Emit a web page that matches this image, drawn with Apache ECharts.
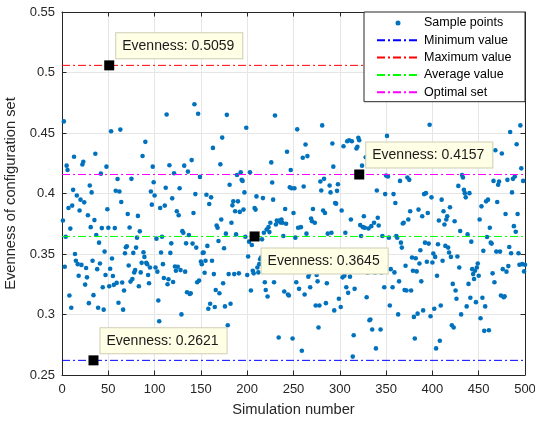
<!DOCTYPE html>
<html>
<head>
<meta charset="utf-8">
<script src="https://cdn.jsdelivr.net/npm/echarts@6/dist/echarts.min.js"></script>
<style>
html,body{margin:0;padding:0;background:#fff;}
#chart{width:535px;height:422px;}
</style>
</head>
<body>
<div id="chart"></div>
<script>
// ---- data ----
const evenness = [
// 1-61
0.3777,0.4596,0.3395,0.3643,0.4230,0.4194,0.3880,0.3157,0.3710,0.3056,
0.3900,0.4030,0.4304,0.3500,0.3444,0.3984,0.3416,0.3320,0.3859,0.3949,
0.3410,0.4240,0.4263,0.3927,0.3247,0.3384,0.3307,0.3820,0.3094,0.4066,
0.3722,0.4009,0.3444,0.3160,0.3780,0.4328,0.3657,0.3375,0.3056,0.3594,
0.3422,0.4164,0.3714,0.3225,0.3040,0.3520,0.3326,0.4222,0.3870,0.3717,
0.3233,0.3378,0.4514,0.3463,0.3318,0.3245,0.3714,0.4023,0.3261,0.4120,
0.3097,
// 62-123
0.4017,0.4528,0.3930,0.3264,0.3040,0.3198,0.3506,0.3556,0.3564,0.3831,
0.3405,0.3719,0.3272,0.4121,0.3294,0.3509,0.3348,0.3367,0.3553,0.3635,
0.3815,0.3234,0.3687,0.3348,0.3427,0.4310,0.3515,0.3476,0.4427,0.3427,
0.3416,0.3326,0.3258,0.3389,0.4017,0.3908,0.4222,0.4093,0.3984,0.3389,
0.3627,0.3354,0.3116,0.2944,0.3880,0.3512,0.3643,0.3416,0.3302,0.3900,
0.4047,0.4653,0.3250,0.3291,0.4233,0.3509,0.3588,0.3960,0.3269,0.4167,
0.3397,0.3362,
// 124-189
0.3853,0.3395,0.3820,0.4044,0.3367,0.3001,0.3689,0.3676,0.4230,0.3354,
0.3588,0.3184,0.4181,0.3657,0.3170,0.3176,0.4276,0.3586,0.3839,0.4738,
0.3995,0.3553,0.3266,0.4659,0.3280,0.4137,0.3438,0.3416,0.3509,0.3512,
0.3345,0.3444,0.3990,0.3567,0.3048,0.3913,0.3089,0.3968,0.3444,0.4377,
0.3334,0.3062,0.3203,0.3736,0.3717,0.3608,0.3176,0.4241,0.3785,0.4462,
0.3258,0.3547,0.3067,0.3668,0.4650,0.2911,0.3334,0.4072,0.3089,0.3758,
0.3902,0.3935,0.3334,0.3853,0.3662,0.4153,
// 190-251
0.3935,0.3340,0.3848,0.4175,0.4113,0.4104,0.3867,0.4009,0.3643,0.4544,
0.3326,0.3479,0.3602,0.4175,0.3198,0.3575,0.3362,0.3340,0.3880,0.3867,
0.3976,0.3389,0.3348,0.3416,0.3457,0.3471,0.3621,0.3962,0.3676,0.3266,
0.3203,0.3703,0.3149,0.3722,0.3681,0.3758,0.4257,0.4091,0.3949,0.3266,
0.4645,0.3744,0.3777,0.3771,0.2810,0.3777,0.3760,0.3785,0.3758,0.3649,
0.3190,0.3872,0.3750,0.4345,0.3165,0.3157,0.4052,0.4194,0.4044,0.2802,
0.3839,0.4044,
// 252-309
0.3635,0.3266,0.4530,0.3717,0.3212,0.3480,0.3722,0.2701,0.4295,0.4058,
0.3165,0.4405,0.3668,0.4309,0.3313,0.3334,0.3225,0.3793,0.3771,0.3872,
0.3420,0.3758,0.3075,0.3326,0.3274,0.2892,0.3075,0.4099,0.4025,0.4563,
0.3859,0.4121,0.3839,0.3094,0.3258,0.3668,0.3510,0.4066,0.4009,0.3676,
0.4413,0.4222,0.3034,0.3921,0.3916,0.4022,0.4077,0.3130,0.3450,0.3062,
0.3859,0.3307,0.4391,0.3320,0.3676,0.3225,0.4432,0.3179,
// 310-375
0.4440,0.3313,0.3785,0.4432,0.2652,0.2829,0.3212,0.3450,0.4372,0.4386,
0.4460,0.4440,0.3739,0.3649,0.4230,0.3722,0.3812,0.3717,0.4300,0.3143,
0.3348,0.3711,0.2952,0.2958,0.3730,0.2876,0.3400,0.3758,0.3348,0.2720,
0.4025,0.3799,0.3736,0.4250,0.2876,0.3348,0.3649,0.3498,0.3225,0.3995,
0.4148,0.4476,0.4140,0.3635,0.3075,0.3375,0.4350,0.3225,0.3995,0.3348,
0.3921,0.3649,0.3635,0.3001,0.3274,0.4104,0.3594,0.3553,0.3752,0.3758,
0.3203,0.3403,0.3198,0.4132,0.3785,0.4113,
// 376-438
0.3853,0.3198,0.3471,0.3362,0.2980,0.2802,0.3465,0.3356,0.3007,0.3867,
0.3422,0.3531,0.3274,0.3812,0.3034,0.3995,0.3594,0.4003,0.3436,0.3839,
0.3586,0.4568,0.2985,0.3968,0.3430,0.3504,0.3048,0.3476,0.2720,0.3320,
0.3580,0.3777,0.2783,0.3075,0.3949,0.3444,0.3853,0.3744,0.3567,0.3785,
0.3812,0.3553,0.3512,0.3886,0.3476,0.2911,0.3253,0.2892,0.3771,0.3198,
0.3130,0.3479,0.4063,0.3389,0.3690,0.3001,0.4153,0.4132,0.4030,0.4003,
0.3968,0.3067,0.3662,
// 439-500
0.3253,0.4003,0.3138,0.3602,0.3375,0.3334,0.3294,0.3362,0.3102,0.3389,
0.3422,0.3320,0.3785,0.2969,0.3894,0.3138,0.3526,0.2865,0.3067,0.3935,
0.3640,0.3949,0.2870,0.3717,0.3594,0.3586,0.3340,0.4104,0.3266,0.4358,
0.3520,0.3930,0.4072,0.4099,0.3520,0.3157,0.4331,0.3375,0.3143,0.3150,
0.3831,0.3354,0.4113,0.3400,0.3558,0.4508,0.3506,0.4009,0.4121,0.3730,
0.4140,0.3684,0.4407,0.3831,0.3506,0.3411,0.4563,0.4208,0.3416,0.4104,
0.3356,0.3411
];

const refLineNames  = ['Minimum value', 'Maximum value', 'Average value', 'Optimal set'];
const refLineValues = [0.2621, 0.5059, 0.3645, 0.4157];

const tipX = [51, 321, 208, 34];
const tipY = [0.5059, 0.4157, 0.3645, 0.2621];

const xTicks = [0, 50, 100, 150, 200, 250, 300, 350, 400, 450, 500];
const yTicks = ['0.25', '0.3', '0.35', '0.4', '0.45', '0.5', '0.55'];

// ---- styles ----
const FONT = "'Liberation Sans', Arial, Helvetica, sans-serif";
const AX = '#262626';
const lineColors = ['#0000ff', '#ff0000', '#00ff00', '#ff00ff'];
const dashDot = [8, 3, 2, 3];
// label placement per tip: true = above-right, false = below-right
const tipAbove = [true, true, false, true];

const chart = echarts.init(document.getElementById('chart'), null, {renderer: 'canvas'});

const sampleData = evenness.map((v, i) => [i + 1, v]);

const series = [{
  name: 'Sample points',
  type: 'scatter',
  data: sampleData,
  symbol: 'circle',
  symbolSize: 4.6,
  itemStyle: {color: '#0072BD', opacity: 1},
  z: 2,
  silent: true
}];

refLineNames.forEach((n, k) => {
  series.push({
    name: n,
    type: 'line',
    data: [[xTicks[0], refLineValues[k]], [xTicks[xTicks.length - 1], refLineValues[k]]],
    symbol: 'none',
    lineStyle: {color: lineColors[k], width: 1, type: dashDot},
    itemStyle: {color: lineColors[k]},
    z: 3,
    silent: true
  });
});

series.push({
  name: 'tips',
  type: 'scatter',
  symbol: 'rect',
  symbolSize: 10,
  itemStyle: {color: '#000000', opacity: 1},
  z: 6,
  data: tipX.map((x, k) => ({
    value: [x, tipY[k]],
    label: {
      show: true,
      position: tipAbove[k] ? [12, -27] : [12, 17],
      align: 'left',
      verticalAlign: 'top',
      formatter: 'Evenness: ' + tipY[k].toFixed(4),
      fontFamily: FONT,
      fontSize: 14,
      color: '#1a1a1a',
      backgroundColor: '#ffffe6',
      borderColor: '#cfcdb2',
      borderWidth: 1,
      padding: [5, 8, 4, 6],
      lineHeight: 16
    }
  })),
  silent: true
});

const axisCommon = {
  axisLine: {show: true, onZero: false, lineStyle: {color: AX, width: 1}},
  axisTick: {show: true, inside: true, length: 4.5, lineStyle: {color: AX}},
};

const legendData = [{name: 'Sample points', icon: 'circle'}]
  .concat(refLineNames.map(n => ({name: n, itemStyle: {opacity: 0}})));

const option = {
  animation: false,
  backgroundColor: '#ffffff',
  grid: {left: 62, right: 10, top: 12, bottom: 47, containLabel: false, outerBoundsMode: 'none'},
  legend: {
    orient: 'vertical',
    left: 364, top: 12,
    data: legendData,
    itemWidth: 42, itemHeight: 5, itemGap: 2.3,
    padding: [3.5, 13.5, 2, 12],
    backgroundColor: '#ffffff',
    borderColor: AX, borderWidth: 1,
    textStyle: {fontFamily: FONT, fontSize: 12.5, color: '#000', lineHeight: 15},
    selectedMode: false
  },
  xAxis: [{
    type: 'value', min: 0, max: 500, interval: 50,
    name: 'Simulation number', nameLocation: 'middle', nameGap: 27,
    nameTextStyle: {fontFamily: FONT, fontSize: 14.7, color: AX},
    ...axisCommon,
    axisLabel: {fontFamily: FONT, fontSize: 13, color: AX, margin: 8},
    splitLine: {show: true, lineStyle: {color: '#e6e6e6', width: 1}}
  }, {
    type: 'value', min: 0, max: 500, interval: 50, position: 'top',
    ...axisCommon, axisLabel: {show: false}, splitLine: {show: false}
  }],
  yAxis: [{
    type: 'value', min: 0.25, max: 0.55, interval: 0.05,
    name: 'Evenness of configuration set', nameLocation: 'middle', nameGap: 37,
    nameTextStyle: {fontFamily: FONT, fontSize: 14.7, color: AX},
    ...axisCommon,
    axisLabel: {fontFamily: FONT, fontSize: 13, color: AX, margin: 7,
      formatter: v => { const s = yTicks.find(t => Math.abs(parseFloat(t) - v) < 1e-6); return s || String(v); }},
    splitLine: {show: true, lineStyle: {color: '#e6e6e6', width: 1}}
  }, {
    type: 'value', min: 0.25, max: 0.55, interval: 0.05, position: 'right',
    ...axisCommon, axisLabel: {show: false}, splitLine: {show: false}
  }],
  series: series
};

chart.setOption(option);
</script>
</body>
</html>
